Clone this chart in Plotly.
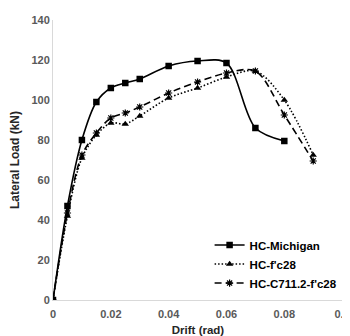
import plotly.graph_objects as go

drift_mich = [0, 0.005, 0.01, 0.015, 0.02, 0.025, 0.03, 0.04, 0.05, 0.06, 0.07, 0.08]
load_mich = [0, 47, 80, 99, 106, 108.5, 110.5, 117, 119.5, 118.5, 86, 79.5]

drift_f28 = [0, 0.005, 0.01, 0.015, 0.02, 0.025, 0.03, 0.04, 0.05, 0.06, 0.07, 0.08, 0.09]
load_f28 = [0, 42, 71, 82.5, 88.5, 88, 92, 101, 106, 111.5, 114.5, 100, 72.5]

drift_c711 = [0, 0.005, 0.01, 0.015, 0.02, 0.025, 0.03, 0.04, 0.05, 0.06, 0.07, 0.08, 0.09]
load_c711 = [0, 43.5, 72.5, 83.5, 91, 93.5, 96.5, 103.5, 109, 113.5, 114.5, 92.5, 69.5]

x_ticks = [0, 0.02, 0.04, 0.06, 0.08, 0.1]
x_ticklabels = ["0", "0.02", "0.04", "0.06", "0.08", "0.1"]
y_ticks = [0, 20, 40, 60, 80, 100, 120, 140]

font_fam = "Liberation Sans, Arial, sans-serif"

fig = go.Figure()
fig.add_trace(go.Scatter(
    x=drift_mich, y=load_mich, name="<b>HC-Michigan</b>", mode="lines+markers",
    line=dict(color="black", width=1.6, shape="spline", smoothing=0.9),
    marker=dict(symbol="square", size=6.5, color="black")))
fig.add_trace(go.Scatter(
    x=drift_f28, y=load_f28, name="<b>HC-f'c28</b>", mode="lines+markers",
    line=dict(color="black", width=1.6, shape="spline", smoothing=0.9, dash="1.5px,2px"),
    marker=dict(symbol="triangle-up", size=6.5, color="black")))
fig.add_trace(go.Scatter(
    x=drift_c711, y=load_c711, name="<b>HC-C711.2-f'c28</b>", mode="lines+markers",
    line=dict(color="black", width=1.6, shape="spline", smoothing=0.9, dash="7px,4px"),
    marker=dict(symbol="asterisk-open", size=6, color="black", line=dict(width=1.2, color="black"))))

# The page body has an 8px default margin, so the figure is sized to fit the
# 350x336 window after that offset.
fig.update_layout(
    width=342, height=328,
    margin=dict(l=45, r=7, t=12, b=36, autoexpand=False),
    paper_bgcolor="white", plot_bgcolor="white",
    font=dict(family=font_fam, size=11, color="#595959"),
    showlegend=True,
    legend=dict(x=0.54, y=0.248, xanchor="left", yanchor="top",
                font=dict(family=font_fam, size=11.5, color="black"),
                bgcolor="rgba(0,0,0,0)", tracegroupgap=0),
    xaxis=dict(range=[0, 0.1003], tickvals=x_ticks,
               ticktext=["<b>%s</b>" % t for t in x_ticklabels],
               ticklabeloverflow="allow", ticklabelstandoff=4,
               showgrid=False, zeroline=False, showline=True, linecolor="#d9d9d9", linewidth=1,
               ticks="", ticklen=0,
               title=dict(text="<b>Drift (rad)</b>", font=dict(size=11.5, color="#262626"), standoff=6)),
    yaxis=dict(range=[0, 140], tickvals=y_ticks,
               ticktext=["<b>%d</b>" % v for v in y_ticks],
               showgrid=False, zeroline=False, showline=True, linecolor="#d9d9d9", linewidth=1,
               ticks="", ticklen=0,
               title=dict(text="<b>Lateral Load (kN)</b>", font=dict(size=12, color="#262626"), standoff=9)),
)

fig.write_html("out.html")
